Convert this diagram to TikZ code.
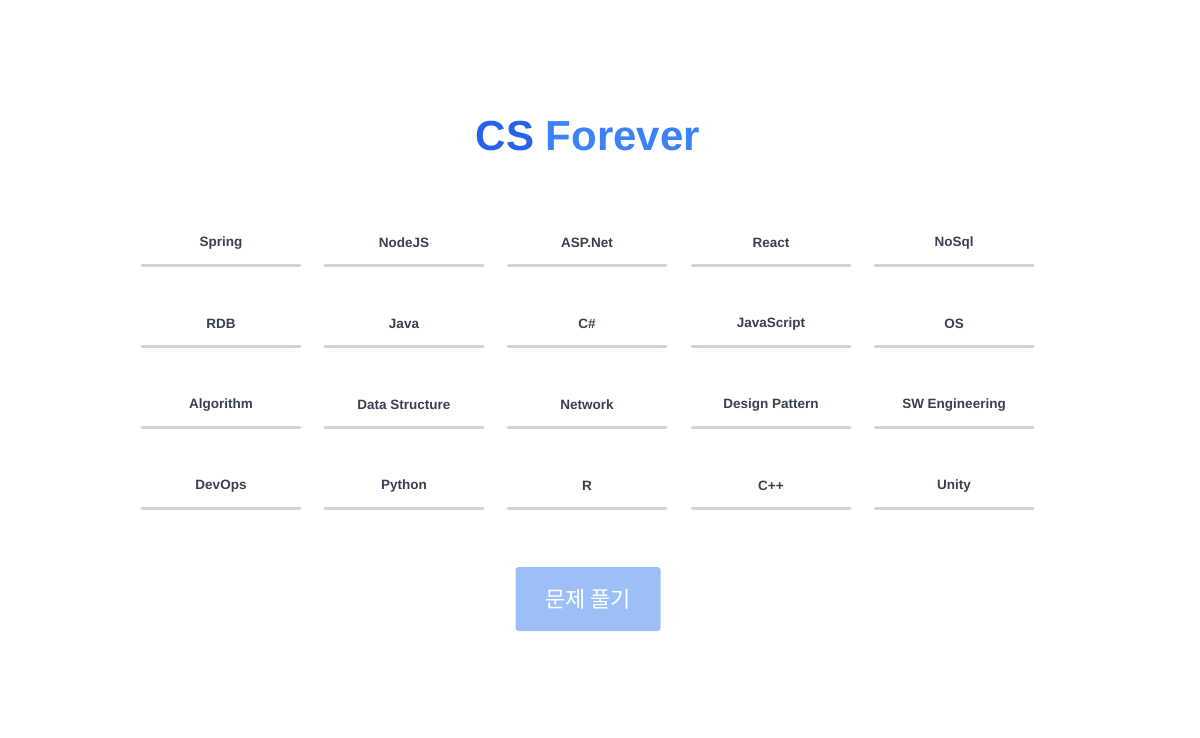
\documentclass[tikz,border=0pt]{standalone}
\usepackage{fontspec}
\setmainfont{Liberation Sans}
\newfontfamily\kr{Noto Sans CJK KR}
\definecolor{tc}{HTML}{374151}
\definecolor{lc}{HTML}{D1D5DB}
\definecolor{b1}{HTML}{2563EB}
\definecolor{b2}{HTML}{3B82F6}
\definecolor{btn}{HTML}{9DBFF8}
\begin{document}
\begin{tikzpicture}[x=1pt,y=-1pt,
 lab/.style={font=\fontsize{13.5}{16}\selectfont\bfseries, text=tc},
 ul/.style={draw=lc, line width=3pt, line cap=round}]
\useasboundingbox (0,0) rectangle (1200,737);
\fill[white] (0,0) rectangle (1200,737);
\node[font=\fontsize{42}{48}\selectfont\bfseries] (title) at (588,136) {\textcolor{b1}{CS} \textcolor{b2}{Forever}};
\def\rowA{{"Spring","NodeJS","ASP.Net","React","NoSql"}}
\foreach \r/\y/\a/\b/\c/\d/\e in {1/243/Spring/NodeJS/ASP.Net/React/NoSql,
 2/324/RDB/Java/C\#/JavaScript/OS,
 3/405/Algorithm/Data Structure/Network/Design Pattern/SW Engineering,
 4/486/DevOps/Python/R/C++/Unity}{
 \foreach \col/\x/\t in {1/221/\a,2/404/\b,3/587/\c,4/771/\d,5/954/\e}{
  \node[lab] (n\r\col) at (\x,\y) {\t};
  \coordinate (l\r\col) at (\x-79,\y+22);
  \coordinate (r\r\col) at (\x+79,\y+22);
  \draw[ul] (l\r\col) -- (r\r\col);
 }}
\node[fill=btn, rounded corners=3pt, minimum width=145pt, minimum height=64pt, text=white, font=\kr\fontsize{22}{26}\selectfont] (btn) at (588,599) {문제 풀기};
\end{tikzpicture}
\end{document}
